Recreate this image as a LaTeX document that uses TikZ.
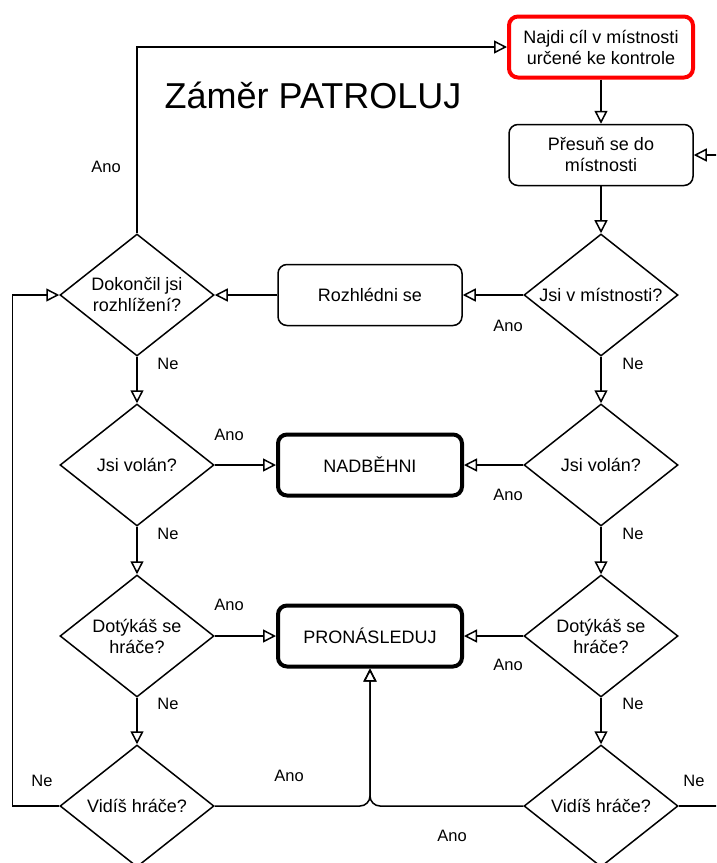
\documentclass[tikz,border=0pt]{standalone}
\usepackage{fontspec}
\setmainfont{Liberation Sans}
\usetikzlibrary{arrows.meta, shapes.geometric}

\tikzset{
  box/.style = {draw, rounded corners = 9pt, line width = 1.5pt, minimum width = 184pt, minimum height = 61pt, align = center, font = \fontsize{18}{21}\selectfont},
  goal/.style = {box, line width = 4pt},
  ask/.style = {draw, diamond, aspect = 1.26, line width = 1.5pt, minimum width = 154pt, minimum height = 122pt, inner sep = 0pt, align = center, font = \fontsize{18}{21}\selectfont},
  lbl/.style = {font = \fontsize{16.5}{19}\selectfont, inner sep = 0pt},
  tip/.tip = {Triangle[open, length = 13pt, width = 13pt, line width = 1.5pt]},
  flow/.style = {line width = 1.5pt, -tip},
}

\begin{document}
\begin{tikzpicture}[x = 1pt, y = -1pt]
    \useasboundingbox (0, 0) rectangle (716, 863);
    \clip (0, 0) rectangle (716, 863);

    \node [font = \fontsize{36}{40}\selectfont, anchor = base, inner sep = 0pt] (title) at (313, 108) {Záměr PATROLUJ};

    \node [goal, draw = red] (find) at (601, 47) {Najdi cíl v místnosti\\určené ke kontrole};
    \node [box] (move) at (601, 155) {Přesuň se do\\místnosti};
    \node [ask] (inroom) at (601, 295) {Jsi v místnosti?};
    \node [box] (look) at (370, 295) {Rozhlédni se};
    \node [ask] (done) at (137, 295) {Dokončil jsi\\rozhlížení?};

    \node [ask] (calledL) at (137, 465) {Jsi volán?};
    \node [ask] (calledR) at (601, 465) {Jsi volán?};
    \node [goal] (run) at (370, 465) {NADBĚHNI};

    \node [ask] (touchL) at (137, 636) {Dotýkáš se\\hráče?};
    \node [ask] (touchR) at (601, 636) {Dotýkáš se\\hráče?};
    \node [goal] (chase) at (370, 636) {PRONÁSLEDUJ};

    \node [ask] (seeL) at (137, 806) {Vidíš hráče?};
    \node [ask] (seeR) at (601, 806) {Vidíš hráče?};

    \draw [flow] (find) -- (move);
    \draw [flow] (move) -- (inroom);
    \draw [flow] (inroom) -- (look);
    \draw [flow] (look) -- (done);
    \draw [flow] (done.north) |- (find.west);

    \draw [flow] (done) -- (calledL);
    \draw [flow] (calledL) -- (touchL);
    \draw [flow] (touchL) -- (seeL);
    \draw [flow] (inroom) -- (calledR);
    \draw [flow] (calledR) -- (touchR);
    \draw [flow] (touchR) -- (seeR);

    \draw [flow] (calledL) -- (run);
    \draw [flow] (calledR) -- (run);
    \draw [flow] (touchL) -- (chase);
    \draw [flow] (touchR) -- (chase);

    \draw [flow, rounded corners = 10pt] (seeL.east) -| (chase.south);
    \draw [flow, rounded corners = 10pt] (seeR.west) -| (chase.south);
    \draw [flow] (seeL.west) -- ++(-47, 0) |- (done.west);
    \draw [flow] (seeR.east) -- ++(60, 0) |- (move.east);

    \node [lbl] (yes1) at (106, 167) {Ano};
    \node [lbl] (no1) at (168, 364) {Ne};
    \node [lbl] (yes2) at (508, 326) {Ano};
    \node [lbl] (no2) at (633, 364) {Ne};
    \node [lbl] (yes3) at (229, 435) {Ano};
    \node [lbl] (yes4) at (508, 495) {Ano};
    \node [lbl] (no3) at (168, 534) {Ne};
    \node [lbl] (no4) at (633, 534) {Ne};
    \node [lbl] (yes5) at (229, 605) {Ano};
    \node [lbl] (yes6) at (508, 665) {Ano};
    \node [lbl] (no5) at (168, 704) {Ne};
    \node [lbl] (no6) at (633, 704) {Ne};
    \node [lbl] (no7) at (42, 781) {Ne};
    \node [lbl] (yes7) at (289, 776) {Ano};
    \node [lbl] (yes8) at (452, 836) {Ano};
    \node [lbl] (no8) at (694, 781) {Ne};
  \end{tikzpicture}
\end{document}
